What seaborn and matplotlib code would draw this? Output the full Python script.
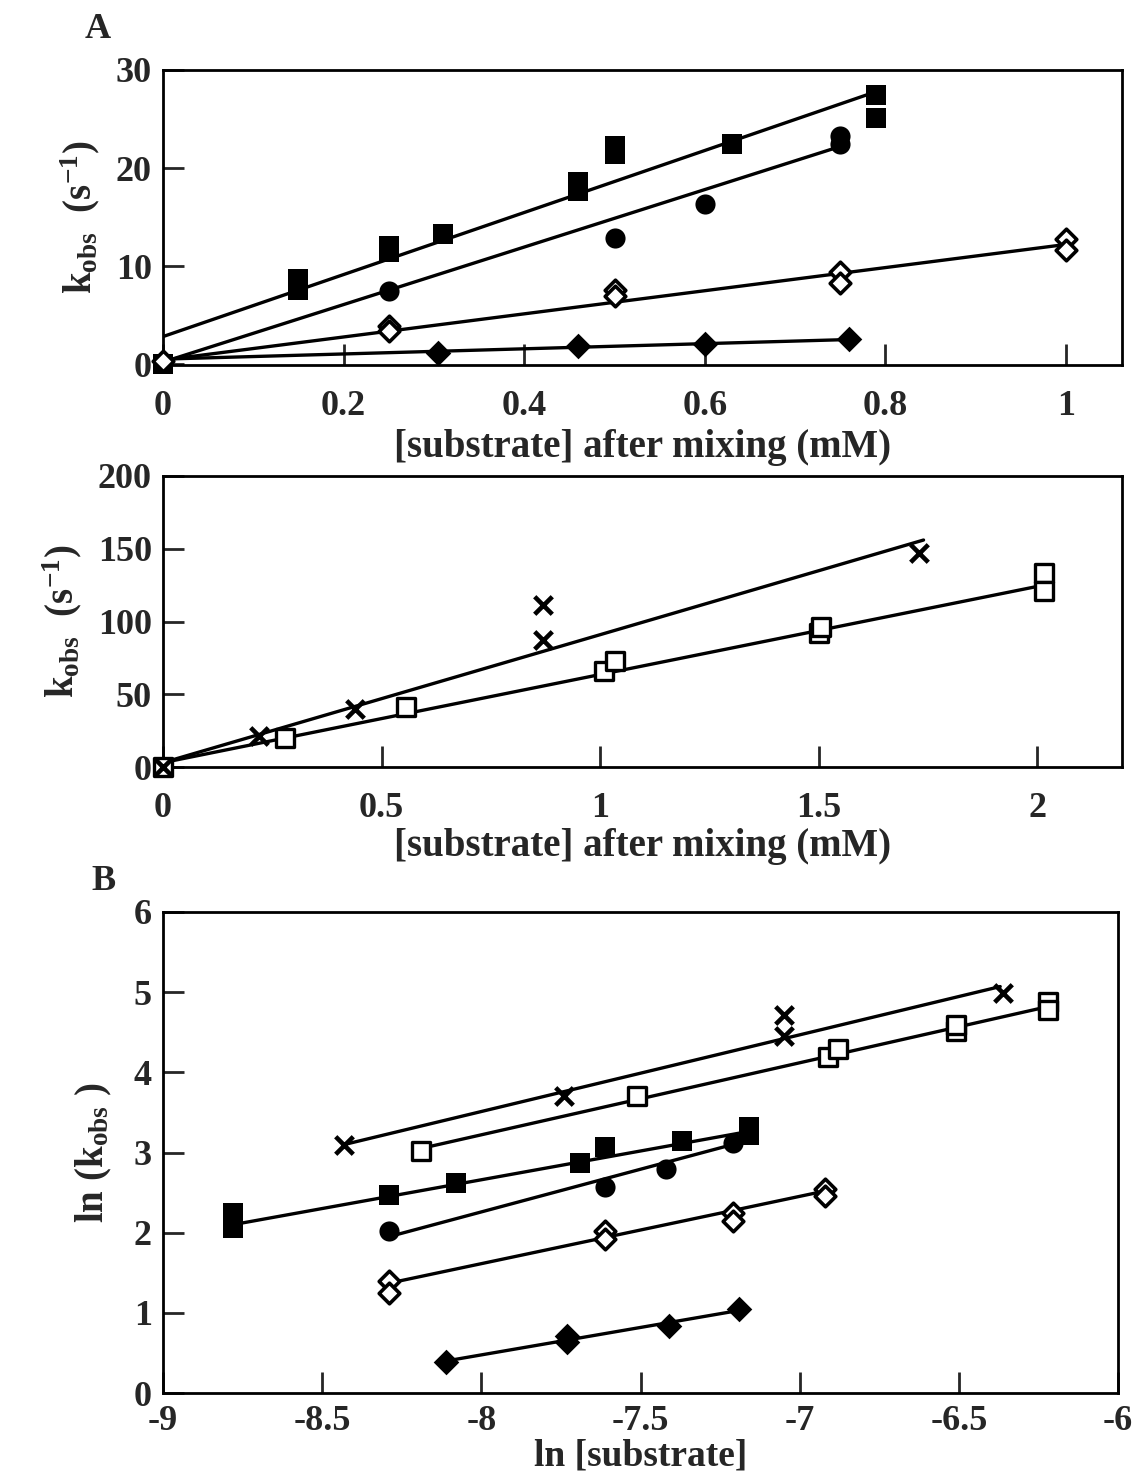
import numpy as np
import pandas as pd
import matplotlib
matplotlib.use("Agg")
import matplotlib.pyplot as plt
import seaborn as sns

# ---------------- data ----------------
# Panel A (top): k_obs vs [substrate] after mixing (mM)
a_fsq_x = [0.0, 0.15, 0.15, 0.25, 0.25, 0.31, 0.46, 0.46, 0.50, 0.50, 0.63, 0.79, 0.79]
a_fsq_y = [0.0, 8.7, 7.6, 12.0, 11.4, 13.3, 18.6, 17.7, 22.2, 21.4, 22.5, 27.4, 25.1]
a_fci_x = [0.25, 0.50, 0.60, 0.75, 0.75]
a_fci_y = [7.5, 12.9, 16.3, 23.3, 22.4]
a_odi_x = [0.0, 0.25, 0.25, 0.50, 0.50, 0.75, 0.75, 1.00, 1.00]
a_odi_y = [0.3, 3.9, 3.4, 7.6, 6.9, 9.4, 8.3, 12.8, 11.6]
a_fdi_x = [0.305, 0.46, 0.60, 0.76]
a_fdi_y = [1.1, 1.8, 2.0, 2.6]

a_fsq_fit_x, a_fsq_fit_y = [0.0, 0.79], [2.8, 27.8]
a_fci_fit_x, a_fci_fit_y = [0.0, 0.75], [0.2, 22.2]
a_odi_fit_x, a_odi_fit_y = [0.0, 1.00], [0.4, 12.2]
a_fdi_fit_x, a_fdi_fit_y = [0.0, 0.76], [0.5, 2.5]

a_xticks = [0, 0.2, 0.4, 0.6, 0.8, 1]
a_yticks = [0, 10, 20, 30]

# Panel A (middle)
m_x_x = [0.0, 0.22, 0.44, 0.87, 0.87, 1.73]
m_x_y = [0.0, 21.0, 40.0, 111.0, 87.0, 147.0]
m_osq_x = [0.0, 0.28, 0.555, 1.01, 1.035, 1.50, 1.505, 2.015, 2.015]
m_osq_y = [0.0, 20.0, 41.0, 66.0, 73.0, 92.0, 96.0, 133.0, 121.0]

m_x_fit_x, m_x_fit_y = [0.0, 1.74], [3.0, 156.0]
m_osq_fit_x, m_osq_fit_y = [0.0, 2.015], [3.0, 125.0]

m_xticks = [0, 0.5, 1, 1.5, 2]
m_yticks = [0, 50, 100, 150, 200]

# Panel B: ln(k_obs) vs ln[substrate]
b_x_x = [-8.43, -7.74, -7.05, -7.05, -6.36]
b_x_y = [3.09, 3.71, 4.72, 4.45, 4.99]
b_osq_x = [-8.19, -7.51, -6.91, -6.88, -6.51, -6.51, -6.22, -6.22]
b_osq_y = [3.02, 3.71, 4.19, 4.29, 4.52, 4.59, 4.88, 4.78]
b_fsq_x = [-8.78, -8.78, -8.29, -8.08, -7.69, -7.61, -7.37, -7.16, -7.16]
b_fsq_y = [2.24, 2.06, 2.47, 2.62, 2.87, 3.07, 3.14, 3.32, 3.22]
b_fci_x = [-8.29, -7.61, -7.42, -7.21]
b_fci_y = [2.02, 2.57, 2.79, 3.12]
b_odi_x = [-8.29, -8.29, -7.61, -7.61, -7.21, -7.21, -6.92, -6.92]
b_odi_y = [1.40, 1.25, 2.02, 1.92, 2.25, 2.14, 2.55, 2.46]
b_fdi_x = [-8.11, -7.73, -7.73, -7.41, -7.19]
b_fdi_y = [0.39, 0.71, 0.63, 0.83, 1.05]

b_x_fit_x, b_x_fit_y = [-8.43, -6.37], [3.10, 5.07]
b_osq_fit_x, b_osq_fit_y = [-8.19, -6.22], [3.05, 4.82]
b_fsq_fit_x, b_fsq_fit_y = [-8.78, -7.15], [2.10, 3.27]
b_fci_fit_x, b_fci_fit_y = [-8.29, -7.21], [1.95, 3.10]
b_odi_fit_x, b_odi_fit_y = [-8.29, -6.92], [1.37, 2.52]
b_fdi_fit_x, b_fdi_fit_y = [-8.11, -7.19], [0.40, 1.03]

b_xticks = [-9, -8.5, -8, -7.5, -7, -6.5, -6]
b_yticks = [0, 1, 2, 3, 4, 5, 6]

# ---------------- style ----------------
sns.set_theme(style="ticks")
plt.rcParams.update({
    "font.family": ["Liberation Serif", "DejaVu Serif"],
    "font.weight": "bold",
    "axes.labelweight": "bold",
    "mathtext.fontset": "custom",
    "mathtext.rm": "Liberation Serif:bold",
    "mathtext.bf": "Liberation Serif:bold",
    "mathtext.it": "Liberation Serif:bold",
    "axes.linewidth": 2.0,
    "axes.edgecolor": "black",
})

W, H = 1135, 1483
fig = plt.figure(figsize=(W / 100, H / 100), dpi=100)


def box(left, top, right, bottom):
    return [left / W, 1 - bottom / H, (right - left) / W, (bottom - top) / H]


ax1 = fig.add_axes(box(163, 70, 1122, 365))
ax2 = fig.add_axes(box(163, 476, 1122, 767))
ax3 = fig.add_axes(box(163, 912, 1118, 1393))

LW = 2.4
TICK = 26
LABEL = 28

STYLES = {
    "fsq": dict(marker="s", color="black", edgecolor="black", s=200, linewidth=0),
    "fci": dict(marker="o", color="black", edgecolor="black", s=210, linewidth=0),
    "odi": dict(marker="D", color="white", edgecolor="black", s=110, linewidth=2.6),
    "fdi": dict(marker="D", color="black", edgecolor="black", s=170, linewidth=0),
    "osq": dict(marker="s", color="white", edgecolor="black", s=175, linewidth=2.4),
    "x": dict(marker="x", color="black", s=160, linewidth=3.3),
}


def series(ax, xs, ys, fx, fy, kind):
    sns.lineplot(x=fx, y=fy, ax=ax, color="black", linewidth=LW,
                 estimator=None, sort=False, zorder=2)
    sns.scatterplot(x=xs, y=ys, ax=ax, zorder=3, clip_on=False,
                    legend=False, **STYLES[kind])


KOBS = r"$\mathbf{k_{obs}}$  $\mathbf{(s^{-1})}$"

# panel A top
series(ax1, a_fdi_x, a_fdi_y, a_fdi_fit_x, a_fdi_fit_y, "fdi")
series(ax1, a_fci_x, a_fci_y, a_fci_fit_x, a_fci_fit_y, "fci")
series(ax1, a_fsq_x, a_fsq_y, a_fsq_fit_x, a_fsq_fit_y, "fsq")
series(ax1, a_odi_x, a_odi_y, a_odi_fit_x, a_odi_fit_y, "odi")
ax1.set_xlim(0, 1.062)
ax1.set_ylim(-0.1, 30)
ax1.set_xticks(a_xticks)
ax1.set_yticks(a_yticks)
ax1.set_xlabel("[substrate] after mixing (mM)", fontsize=LABEL, labelpad=4)
ax1.set_ylabel(KOBS, fontsize=LABEL, labelpad=10)

# panel A middle
series(ax2, m_osq_x, m_osq_y, m_osq_fit_x, m_osq_fit_y, "osq")
series(ax2, m_x_x, m_x_y, m_x_fit_x, m_x_fit_y, "x")
ax2.set_xlim(0, 2.194)
ax2.set_ylim(0, 200)
ax2.set_xticks(m_xticks)
ax2.set_yticks(m_yticks)
ax2.set_xlabel("[substrate] after mixing (mM)", fontsize=LABEL, labelpad=2)
ax2.set_ylabel(KOBS, fontsize=LABEL, labelpad=10)

# panel B
series(ax3, b_fdi_x, b_fdi_y, b_fdi_fit_x, b_fdi_fit_y, "fdi")
series(ax3, b_odi_x, b_odi_y, b_odi_fit_x, b_odi_fit_y, "odi")
series(ax3, b_fci_x, b_fci_y, b_fci_fit_x, b_fci_fit_y, "fci")
series(ax3, b_fsq_x, b_fsq_y, b_fsq_fit_x, b_fsq_fit_y, "fsq")
series(ax3, b_osq_x, b_osq_y, b_osq_fit_x, b_osq_fit_y, "osq")
series(ax3, b_x_x, b_x_y, b_x_fit_x, b_x_fit_y, "x")
ax3.set_xlim(-9, -6)
ax3.set_ylim(0, 6)
ax3.set_xticks(b_xticks)
ax3.set_yticks(b_yticks)
ax3.set_ylabel(r"ln (k$_{\mathbf{obs}}$ )", fontsize=LABEL, labelpad=14)

for ax in (ax1, ax2, ax3):
    ax.tick_params(direction="in", length=15, width=2.0, labelsize=TICK,
                   top=False, right=False)
    ax.tick_params(axis="x", pad=18)
    ax.tick_params(axis="y", pad=8)
    for sp in ax.spines.values():
        sp.set_linewidth(2.0)
    ax.set_xticklabels([f"{v:g}" for v in ax.get_xticks()])
    ax.set_yticklabels([f"{v:g}" for v in ax.get_yticks()])

# the bottom panel sits close to the lower edge, so its x text is packed tighter
ax3.tick_params(axis="x", pad=9)
ax3.set_xlabel("ln [substrate]", fontsize=27, labelpad=0)

fig.text(98 / W, 1 - 30 / H, "A", fontsize=26, fontweight="bold", ha="center", va="center")
fig.text(103 / W, 1 - 882 / H, "B", fontsize=26, fontweight="bold", ha="center", va="center")

fig.savefig("out.png", dpi=100)
